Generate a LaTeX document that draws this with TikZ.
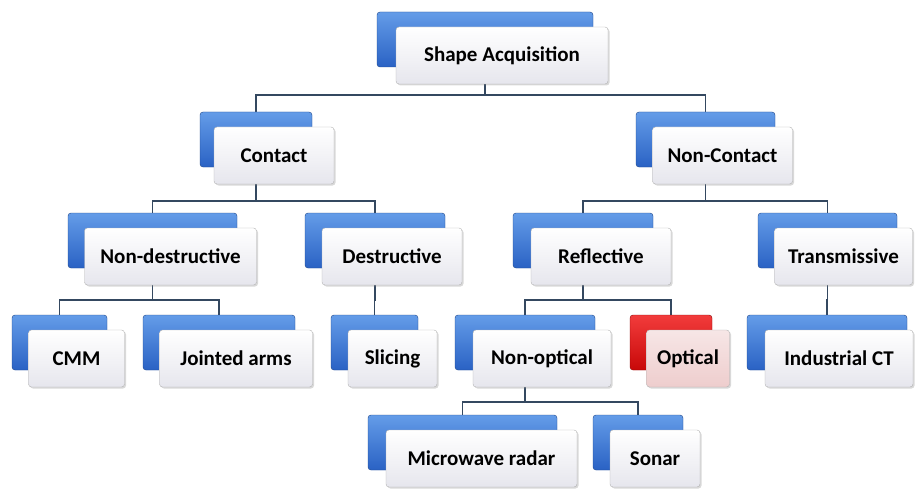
\documentclass[tikz,border=0pt]{standalone}
\usepackage{fontspec}
\setmainfont{Carlito}
\usetikzlibrary{shadows, backgrounds}

\definecolor{cardblue}{RGB}{42,98,196}
\definecolor{cardbluetop}{RGB}{100,156,232}
\definecolor{cardred}{RGB}{200,8,8}
\definecolor{cardredtop}{RGB}{242,60,60}
\definecolor{facegray}{RGB}{230,230,237}
\definecolor{facepink}{RGB}{238,205,205}
\definecolor{linkgray}{RGB}{52,72,96}

\begin{document}
\begin{tikzpicture}[x=1pt,y=-1pt,
  back/.style={rectangle,rounded corners=3pt,minimum height=55pt,minimum width=#1,
    draw=cardblue!70!black,top color=cardbluetop,bottom color=cardblue},
  red back/.style={back=#1,draw=cardred!70!black,top color=cardredtop,bottom color=cardred},
  face/.style={rectangle,rounded corners=3pt,minimum height=57pt,minimum width=#1,
    draw=black!30,top color=white,bottom color=facegray,text=black,
    font=\fontsize{21}{24}\selectfont\bfseries,
    drop shadow={shadow xshift=1.5pt,shadow yshift=-1.5pt,opacity=.3}},
  pink face/.style={face=#1,top color=facepink!50!white,bottom color=facepink},
  link/.style={draw=linkgray,line width=1.6pt}]
  \useasboundingbox (0,0) rectangle (915,492);

  % level 0
  \node[back=216] (sa) at (485,39.5) {};
  \node[face=212] (sa-t) at ([shift={(17,16)}]sa) {Shape Acquisition};
  % level 1
  \node[back=112] (contact) at (256,139.5) {};
  \node[face=120] (contact-t) at ([shift={(18,16)}]contact) {Contact};
  \node[back=139] (noncontact) at (705.5,139.5) {};
  \node[face=140] (noncontact-t) at ([shift={(17,16)}]noncontact) {Non-Contact};
  % level 2
  \node[back=169] (nondestr) at (152.5,240.5) {};
  \node[face=172] (nondestr-t) at ([shift={(18,16)}]nondestr) {Non-destructive};
  \node[back=140] (destr) at (375,240.5) {};
  \node[face=140] (destr-t) at ([shift={(17,16)}]destr) {Destructive};
  \node[back=140] (reflect) at (583,240.5) {};
  \node[face=140] (reflect-t) at ([shift={(18,16)}]reflect) {Reflective};
  \node[back=139] (transm) at (827.5,240.5) {};
  \node[face=138] (transm-t) at ([shift={(16,16)}]transm) {Transmissive};
  % level 3
  \node[back=95] (cmm) at (59.5,342.5) {};
  \node[face=96] (cmm-t) at ([shift={(17,16)}]cmm) {CMM};
  \node[back=152] (jarms) at (219,342.5) {};
  \node[face=153] (jarms-t) at ([shift={(17,16)}]jarms) {Jointed arms};
  \node[back=87] (slicing) at (374.5,342.5) {};
  \node[face=89] (slicing-t) at ([shift={(18,16)}]slicing) {Slicing};
  \node[back=140] (nonopt) at (525,342.5) {};
  \node[face=138] (nonopt-t) at ([shift={(17,16)}]nonopt) {Non-optical};
  \node[red back=82] (optical) at (671,342.5) {};
  \node[pink face=83] (optical-t) at ([shift={(17,16)}]optical) {Optical};
  \node[back=160] (ict) at (827,342.5) {};
  \node[face=148] (ict-t) at ([shift={(12,16)}]ict) {Industrial CT};
  % level 4
  \node[back=189] (mradar) at (462.5,442.5) {};
  \node[face=191] (mradar-t) at ([shift={(19,16)}]mradar) {Microwave radar};
  \node[back=90] (sonar) at (638,442.5) {};
  \node[face=90] (sonar-t) at ([shift={(17,16)}]sonar) {Sonar};

  % connectors behind the cards
  \coordinate (bar0) at (0,95);
  \coordinate (bar1) at (0,201);
  \coordinate (bar2) at (0,300);
  \coordinate (bar3) at (0,402);
  \begin{scope}[on background layer]
    \foreach \p/\c/\b in {sa/contact/bar0, sa/noncontact/bar0,
        contact/nondestr/bar1, contact/destr/bar1,
        noncontact/reflect/bar1, noncontact/transm/bar1,
        nondestr/cmm/bar2, nondestr/jarms/bar2, destr/slicing/bar2,
        reflect/nonopt/bar2, reflect/optical/bar2, transm/ict/bar2,
        nonopt/mradar/bar3, nonopt/sonar/bar3}
      \draw[link] (\p) -- (\p |- \b) -| (\c.north);
  \end{scope}
\end{tikzpicture}
\end{document}
